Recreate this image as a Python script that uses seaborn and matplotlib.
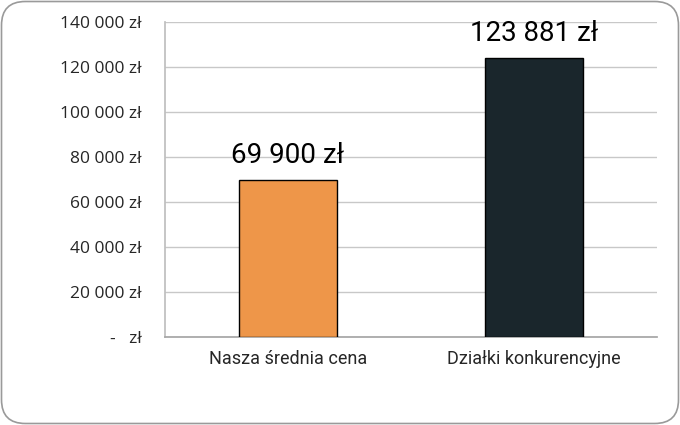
import matplotlib
matplotlib.use("Agg")
import matplotlib.pyplot as plt
import seaborn as sns
import pandas as pd
from matplotlib.patches import FancyBboxPatch
from matplotlib.ticker import FuncFormatter, MultipleLocator

categories = ["Nasza średnia cena", "Działki konkurencyjne"]
values = [69900, 123881]
colors = ["#EE9649", "#1A262C"]

sns.set_theme(style="white")
plt.rcParams['font.family'] = ['Roboto', 'DejaVu Sans']

df = pd.DataFrame({"cat": categories, "val": values})

fig = plt.figure(figsize=(6.8, 4.25), dpi=100)
ax = fig.add_axes([165/680, 1 - 337/425, (657-165)/680, (337-22)/425])

sns.barplot(data=df, x="cat", y="val", hue="cat", palette=colors, legend=False,
            width=0.4, edgecolor="black", linewidth=1, ax=ax, saturation=1, zorder=3)

ax.set_ylim(0, 140000)
ax.yaxis.set_major_locator(MultipleLocator(20000))

def fmt(v, pos):
    if v == 0:
        return "-   zł"
    return f"{int(v):,}".replace(",", " ") + " zł"

ax.yaxis.set_major_formatter(FuncFormatter(fmt))
ax.grid(axis="y", color="#C8C8C8", linewidth=1, zorder=0)
ax.set_xlabel("")
ax.set_ylabel("")
for s in ["top", "right"]:
    ax.spines[s].set_visible(False)
ax.spines["left"].set_color("#BFBFBF")
ax.spines["bottom"].set_color("#A6A6A6")
ax.tick_params(axis="y", length=0, pad=17, labelsize=12.5, labelcolor="#262626",
               labelfontfamily="Open Sans")
ax.tick_params(axis="x", length=0, pad=9, labelsize=13, labelcolor="#262626")

for i, v in enumerate(values):
    ax.annotate(f"{v:,}".replace(",", " ") + " zł", xy=(i, v), xytext=(0, 8),
                textcoords="offset points", ha="center", va="bottom",
                fontsize=20, color="black")

border = FancyBboxPatch((1.5/680, 1.5/425), 677/680, 422/425,
                        boxstyle="round,pad=0,rounding_size=0.035",
                        transform=fig.transFigure, facecolor="none",
                        edgecolor="#9A9A9A", linewidth=1.2, mutation_aspect=680/425)
fig.patches.append(border)

fig.savefig("out.png", dpi=100)
